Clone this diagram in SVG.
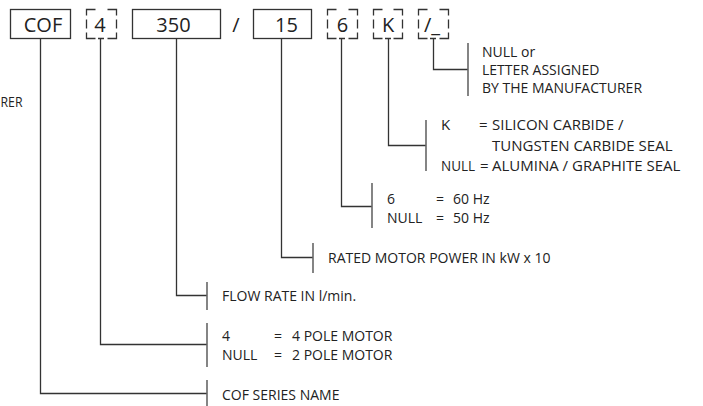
<svg xmlns="http://www.w3.org/2000/svg" width="703" height="406" viewBox="0 0 703 406">
<style>
.box{fill:none;stroke:#333;stroke-width:1.3}
.dash{fill:none;stroke:#333;stroke-width:1.3}
.bt{font-family:"Open Sans",sans-serif;font-size:20px;fill:#222;text-anchor:middle}
.t{font-family:"Open Sans",sans-serif;font-size:14px;fill:#222}
.tk{font-family:"Open Sans",sans-serif;font-size:15px;fill:#222}
.c{fill:none;stroke:#333;stroke-width:1.3}
.bar{fill:none;stroke:#666;stroke-width:1.6}
</style>
<rect width="703" height="406" fill="#fff"/>
<g id="node-cof">
<rect class="box" x="10.5" y="9.5" width="60" height="29"/>
<text class="bt" x="43" y="32">COF</text>
</g>
<g id="node-4">
<path class="dash" d="M86.5,15.5V9.5H95.5M107.5,9.5H116.5V15.5M86.5,19.5V28.5M116.5,19.5V28.5M86.5,32.5V38.5H95.5M107.5,38.5H116.5V32.5M98,38.5H104"/>
<text class="bt" x="100" y="32">4</text>
</g>
<g id="node-350">
<rect class="box" x="132.5" y="9.5" width="88" height="29"/>
<text class="bt" x="173.5" y="32">350</text>
</g>
<g id="node-slash">
<text class="bt" x="236" y="32">/</text>
</g>
<g id="node-15">
<rect class="box" x="253.5" y="9.5" width="58" height="29"/>
<text class="bt" x="286.5" y="32">15</text>
</g>
<g id="node-6">
<path class="dash" d="M327.5,15.5V9.5H336.5M348.5,9.5H357.5V15.5M327.5,19.5V28.5M357.5,19.5V28.5M327.5,32.5V38.5H336.5M348.5,38.5H357.5V32.5M339,38.5H345"/>
<text class="bt" x="342.5" y="32">6</text>
</g>
<g id="node-k">
<path class="dash" d="M373.5,15.5V9.5H382.5M393.5,9.5H402.5V15.5M373.5,19.5V28.5M402.5,19.5V28.5M373.5,32.5V38.5H382.5M393.5,38.5H402.5V32.5M385,38.5H391"/>
<text class="bt" x="388" y="32">K</text>
</g>
<g id="node-letter">
<path class="dash" d="M418.5,15.5V9.5H427.5M439.5,9.5H448.5V15.5M418.5,19.5V28.5M448.5,19.5V28.5M418.5,32.5V38.5H427.5M439.5,38.5H448.5V32.5M430,38.5H436"/>
<text class="bt" x="432" y="32">/_</text>
</g>
<g id="connectors">
<path class="c" d="M40.5,38.5V393.5H207"/>
<path class="c" d="M100.5,38.5V344.5H207"/>
<path class="c" d="M176.5,38.5V295.5H207"/>
<path class="c" d="M281.5,38.5V257.5H313"/>
<path class="c" d="M341.5,38.5V206.5H372"/>
<path class="c" d="M388.5,38.5V145.5H426"/>
<path class="c" d="M433.5,38.5V69.5H468"/>
<path class="bar" d="M207,380V406"/>
<path class="bar" d="M207,323V367"/>
<path class="bar" d="M207,282V310"/>
<path class="bar" d="M313,243V273"/>
<path class="bar" d="M372,183V228"/>
<path class="bar" d="M426,120V171"/>
<path class="bar" d="M468,43V96"/>
</g>
<g id="label-letter">
<text class="t" x="482" y="57">NULL or</text>
<text class="t" x="482" y="75">LETTER ASSIGNED</text>
<text class="t" x="482" y="93">BY THE MANUFACTURER</text>
</g>
<g id="label-k">
<text class="tk" x="441" y="130">K</text>
<text class="tk" x="479" y="130">=</text>
<text class="tk" x="492" y="130">SILICON CARBIDE /</text>
<text class="tk" x="492" y="151">TUNGSTEN CARBIDE SEAL</text>
<text class="tk" x="441" y="171" textLength="34" lengthAdjust="spacingAndGlyphs">NULL</text>
<text class="tk" x="480" y="171">=</text>
<text class="tk" x="492" y="171">ALUMINA / GRAPHITE SEAL</text>
</g>
<g id="label-6">
<text class="t" x="387" y="204">6</text>
<text class="t" x="436" y="204">=</text>
<text class="t" x="453" y="204">60 Hz</text>
<text class="t" x="387" y="223">NULL</text>
<text class="t" x="436" y="223">=</text>
<text class="t" x="453" y="223">50 Hz</text>
</g>
<g id="label-15">
<text class="t" x="328" y="263">RATED MOTOR POWER IN kW x 10</text>
</g>
<g id="label-350">
<text class="t" x="222" y="301">FLOW RATE IN l/min.</text>
</g>
<g id="label-4">
<text class="t" x="222" y="341">4</text>
<text class="t" x="274" y="341">=</text>
<text class="t" x="292" y="341">4 POLE MOTOR</text>
<text class="t" x="222" y="360">NULL</text>
<text class="t" x="274" y="360">=</text>
<text class="t" x="292" y="360">2 POLE MOTOR</text>
</g>
<g id="label-cof">
<text class="t" x="222" y="400">COF SERIES NAME</text>
</g>
<g id="label-clipped">
<text class="t" x="0.5" y="107" textLength="22" lengthAdjust="spacingAndGlyphs">RER</text>
</g>
</svg>
